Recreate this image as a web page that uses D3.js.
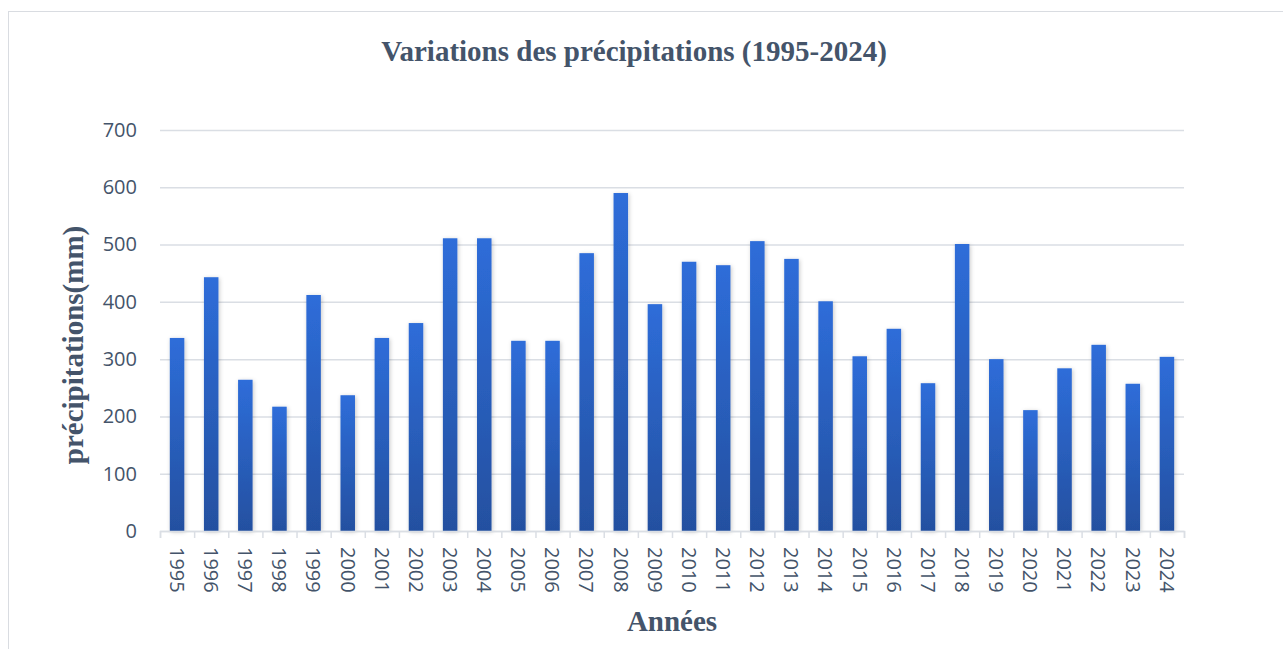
<!DOCTYPE html>
<html>
<head>
<meta charset="utf-8">
<script src="https://cdn.jsdelivr.net/npm/d3@7"></script>
<style>
  body { margin: 0; background: #fff; }
  .chart svg { display: block; }
</style>
</head>
<body>
<div class="chart"></div>
<script>
// données
const years = ['1995','1996','1997','1998','1999','2000','2001','2002','2003','2004',
               '2005','2006','2007','2008','2009','2010','2011','2012','2013','2014',
               '2015','2016','2017','2018','2019','2020','2021','2022','2023','2024'];
const precip = [337, 443, 264, 217, 412, 237, 337, 363, 511, 511,
                332, 332, 485, 590, 396, 470, 464, 506, 475, 401,
                305, 353, 258, 501, 300, 211, 284, 325, 257, 304];
const yTicks = [0, 100, 200, 300, 400, 500, 600, 700];

const w = 1283;
const h = 649;
const plotLeft = 160, plotRight = 1184, plotTop = 130, plotBottom = 531;
const textColor = '#44546a';
const gridColor = '#dadee4';
const serif = '"Liberation Serif", "Times New Roman", serif';

const svg = d3.select('.chart')
    .append('svg')
    .attr('width', w)
    .attr('height', h);

// cadre
svg.append('rect')
    .attr('x', 8.5).attr('y', 11.5)
    .attr('width', 1300).attr('height', 700)
    .attr('fill', 'none')
    .attr('stroke', '#d9dce1')
    .attr('stroke-width', 1);

const defs = svg.append('defs');
const grad = defs.append('linearGradient')
    .attr('id', 'barGrad')
    .attr('x1', 0).attr('y1', 0).attr('x2', 0).attr('y2', 1);
grad.append('stop').attr('offset', '0%').attr('stop-color', '#2e6dd9');
grad.append('stop').attr('offset', '100%').attr('stop-color', '#2450a0');

const shadow = defs.append('filter')
    .attr('id', 'shadow')
    .attr('x', '-50%').attr('y', '-10%').attr('width', '200%').attr('height', '120%');
shadow.append('feDropShadow')
    .attr('dx', 1).attr('dy', 1)
    .attr('stdDeviation', 2)
    .attr('flood-color', '#000')
    .attr('flood-opacity', 0.22);

const x = d3.scaleBand()
    .domain(years)
    .range([plotLeft, plotRight])
    .paddingInner(0.575)
    .paddingOuter(0.2875);

const xEdges = d3.scaleLinear()
    .domain([0, years.length])
    .range([plotLeft, plotRight]);

const y = d3.scaleLinear()
    .domain([0, 700])
    .range([plotBottom, plotTop]);

// grille + axe Y
const yAxis = d3.axisLeft(y)
    .tickValues(yTicks)
    .tickSize(-(plotRight - plotLeft))
    .tickPadding(23);

const gy = svg.append('g')
    .attr('transform', 'translate(' + plotLeft + ',0)')
    .call(yAxis);
gy.select('.domain').remove();
gy.selectAll('.tick line')
    .attr('stroke', gridColor)
    .attr('stroke-width', 1.5);
gy.selectAll('.tick text')
    .attr('fill', textColor)
    .style('font-family', '"Open Sans", sans-serif')
    .style('font-size', '20px');

// barres
svg.append('g')
    .selectAll('rect')
    .data(precip)
    .enter()
    .append('rect')
    .attr('x', (d, i) => x(years[i]))
    .attr('y', (d) => y(d))
    .attr('width', x.bandwidth())
    .attr('height', (d) => y(0) - y(d))
    .attr('fill', 'url(#barGrad)')
    .attr('filter', 'url(#shadow)');

// axe X : traits entre catégories
const edgeAxis = d3.axisBottom(xEdges)
    .tickValues(d3.range(years.length + 1))
    .tickSize(7)
    .tickFormat('');
const ge = svg.append('g')
    .attr('transform', 'translate(0,' + plotBottom + ')')
    .call(edgeAxis);
ge.select('.domain')
    .attr('stroke', gridColor)
    .attr('stroke-width', 1.5);
ge.selectAll('.tick line')
    .attr('stroke', gridColor)
    .attr('stroke-width', 1.5);

// étiquettes des années
const labelAxis = d3.axisBottom(x).tickSize(0);
const gx = svg.append('g')
    .attr('transform', 'translate(0,' + plotBottom + ')')
    .call(labelAxis);
gx.select('.domain').remove();
gx.selectAll('.tick text')
    .attr('transform', 'rotate(90)')
    .attr('x', 16)
    .attr('y', 0)
    .attr('dy', '0.36em')
    .attr('text-anchor', 'start')
    .attr('fill', textColor)
    .style('font-family', '"Open Sans", sans-serif')
    .style('font-size', '20px');

// titres
svg.append('text')
    .attr('x', 634)
    .attr('y', 61)
    .attr('text-anchor', 'middle')
    .attr('fill', textColor)
    .style('font-family', serif)
    .style('font-weight', 'bold')
    .style('font-size', '29px')
    .text('Variations des précipitations (1995-2024)');

svg.append('text')
    .attr('transform', 'translate(83,345) rotate(-90)')
    .attr('text-anchor', 'middle')
    .attr('fill', textColor)
    .style('font-family', serif)
    .style('font-weight', 'bold')
    .style('font-size', '29px')
    .text('précipitations(mm)');

svg.append('text')
    .attr('x', (plotLeft + plotRight) / 2)
    .attr('y', 631)
    .attr('text-anchor', 'middle')
    .attr('fill', textColor)
    .style('font-family', serif)
    .style('font-weight', 'bold')
    .style('font-size', '29px')
    .text('Années');
</script>
</body>
</html>
